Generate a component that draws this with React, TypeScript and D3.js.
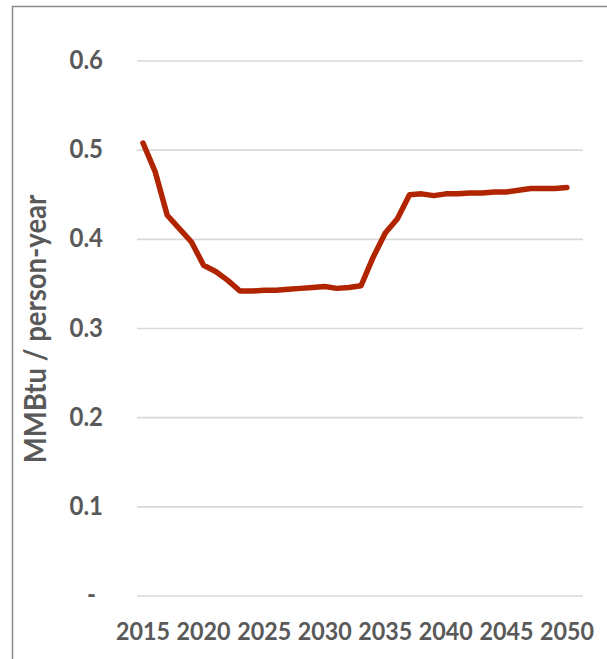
import React from "react";
import * as d3 from "d3";

// Annual per-capita energy use, MMBtu per person-year
const years: number[] = [
  2015, 2016, 2017, 2018, 2019, 2020, 2021, 2022, 2023, 2024, 2025, 2026,
  2027, 2028, 2029, 2030, 2031, 2032, 2033, 2034, 2035, 2036, 2037, 2038,
  2039, 2040, 2041, 2042, 2043, 2044, 2045, 2046, 2047, 2048, 2049, 2050,
];
const perCapita: number[] = [
  0.508, 0.476, 0.427, 0.412, 0.397, 0.371, 0.364, 0.354, 0.342, 0.342, 0.343, 0.343,
  0.344, 0.345, 0.346, 0.347, 0.345, 0.346, 0.348, 0.38, 0.407, 0.423, 0.45, 0.451,
  0.449, 0.451, 0.451, 0.452, 0.452, 0.453, 0.453, 0.455, 0.457, 0.457, 0.457, 0.458,
];
const yTicks: number[] = [0, 0.1, 0.2, 0.3, 0.4, 0.5, 0.6];
const xTickYears: number[] = [2015, 2020, 2025, 2030, 2035, 2040, 2045, 2050];
const yTitle = "MMBtu / person-year";

const W = 607;
const H = 659;
const FONT = "Lato, 'Open Sans', sans-serif";
const TEXT = "#595959";

export default function App() {
  const x = d3.scaleLinear().domain([2015, 2050]).range([143, 567]);
  const y = d3.scaleLinear().domain([0, 0.6]).range([596, 61]);
  const line = d3
    .line<number>()
    .x((_, i) => x(years[i]))
    .y((d) => y(d))
    .curve(d3.curveLinear);

  const fmt = (v: number) => (v === 0 ? "-" : d3.format(".1f")(v));

  return (
    <svg
      width={W}
      height={H}
      style={{ position: "absolute", left: 0, top: 0, background: "#fff" }}
    >
      <rect x={12.5} y={6.5} width={W} height={H} fill="#fff" stroke="#8c8c8c" strokeWidth={1.5} />
      {yTicks.map((t) => (
        <g key={t}>
          <line x1={137} x2={583} y1={y(t)} y2={y(t)} stroke="#d9d9d9" strokeWidth={1.6} />
          <text
            transform={`translate(${t === 0 ? 96 : 103},${y(t) + 8}) scale(1,1.1)`}
            textAnchor="end"
            fontFamily={FONT}
            fontWeight={700}
            fontSize={24}
            fill={TEXT}
          >
            {fmt(t)}
          </text>
        </g>
      ))}
      {xTickYears.map((yr) => (
        <text
          key={yr}
          transform={`translate(${x(yr)},640) scale(1,1.08)`}
          textAnchor="middle"
          fontFamily={FONT}
          fontWeight={700}
          fontSize={23.3}
          fill={TEXT}
        >
          {yr}
        </text>
      ))}
      <text
        transform={`translate(46,329) rotate(-90) scale(1,1.1)`}
        textAnchor="middle"
        fontFamily={FONT}
        fontWeight={700}
        fontSize={27.5}
        fill={TEXT}
      >
        {yTitle}
      </text>
      <path
        d={line(perCapita) || ""}
        fill="none"
        stroke="#b02500"
        strokeWidth={5.5}
        strokeLinejoin="round"
        strokeLinecap="round"
      />
    </svg>
  );
}
